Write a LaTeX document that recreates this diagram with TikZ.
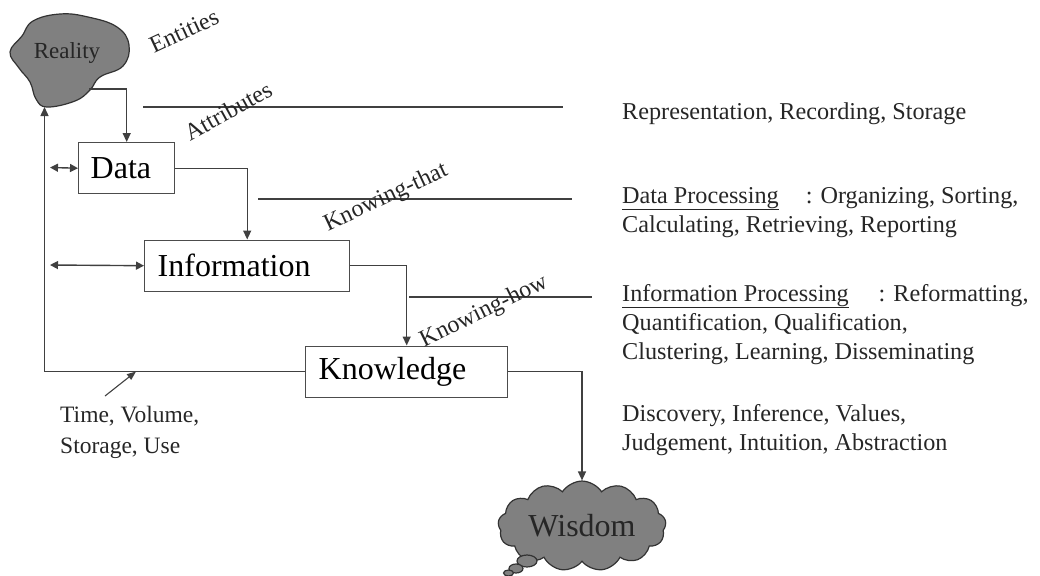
\documentclass[tikz,border=0pt]{standalone}
\usepackage{fontspec}
\setmainfont{Liberation Serif}
\usetikzlibrary{arrows.meta,shapes.symbols,shapes.geometric}
\begin{document}
\begin{tikzpicture}[x=1pt,y=-1pt,
  ln/.style={line width=1.4pt, draw=black!75},
  arr/.style={ln,-{Triangle[length=9pt,width=8pt]}},
  darr/.style={ln,{Triangle[length=8pt,width=8pt]}-{Triangle[length=8pt,width=8pt]}},
  stage/.style={draw=black!70, line width=1.4pt, minimum height=51pt, inner xsep=12pt, align=left, font=\fontsize{32}{36}\selectfont, anchor=north west},
  side/.style={anchor=base west, align=left, inner sep=0pt, font=\fontsize{24.2}{29}\selectfont, text=black!85},
  rot/.style={inner sep=0pt, font=\fontsize{24}{28}\selectfont, text=black!85},
  blob/.style={fill=black!50, draw=black!80, line width=1.2pt}
]
\useasboundingbox (0,0) rectangle (1040,575);

% Reality blob
\draw[blob] plot[smooth cycle, tension=0.7] coordinates {(10,52) (22,36) (33,21) (60,14) (88,17) (117,27) (129,45) (123,66) (100,77) (90,90) (75,101) (47,107) (36,99) (30,82) (19,68)};
\node[font=\fontsize{23}{26}\selectfont, text=black!85] (reality) at (67,53) {Reality};
\coordinate (realout) at (89,89);
\coordinate (realin) at (44.5,107);

% Wisdom cloud
\node[cloud, cloud puffs=13, cloud puff arc=115, aspect=2.1, minimum width=168pt, minimum height=80pt, fill=black!50, draw=black!80, line width=1.2pt, font=\fontsize{32}{36}\selectfont, text=black!85, inner sep=0pt] (wisdom) at (582,526) {Wisdom};
\draw[blob] (527,561) ellipse [x radius=10, y radius=6];
\draw[blob] (516,568.5) ellipse [x radius=7, y radius=4.5];
\draw[blob] (508.5,573) ellipse [x radius=5, y radius=3];

% Stage boxes
\node[stage, minimum width=96pt, text width=72pt] (data) at (78,142) {Data};
\node[stage, minimum width=205pt, inner xsep=13pt, text width=179pt] (info) at (144,239.5) {Information};
\node[stage, minimum width=202pt, inner xsep=13pt, text width=176pt] (know) at (305,345.5) {Knowledge};

% Main flow
\draw[arr] (realout) -| (data.north);
\draw[arr] (data.east) -| (info.north);
\draw[arr] (info.east) -| (know.north);
\draw[arr] (know.east) -| (wisdom.north);
\draw[arr] (know.west) -| (realin);

% Double arrows
\coordinate (dl) at (50,167.5);
\coordinate (il) at (50,265);
\draw[darr] (dl) -- (data.west);
\draw[darr] (il) -- (info.west);

% Time/volume pointer
\coordinate (tvsfrom) at (105,396);
\coordinate (tvsto) at (136,371.5);
\draw[ln, line width=1.1pt, -{Triangle[length=9pt,width=7pt]}] (tvsfrom) -- (tvsto);
\node[side, font=\fontsize{23.5}{31}\selectfont] (tvs) at (60,453) {Time, Volume,\\Storage, Use};

% Separator lines
\coordinate (l1a) at (143,107); \coordinate (l1b) at (563,107);
\coordinate (l2a) at (258,199); \coordinate (l2b) at (572,199);
\coordinate (l3a) at (409,297); \coordinate (l3b) at (592,297);
\draw[ln, line width=1.2pt] (l1a) -- (l1b);
\draw[ln, line width=1.2pt] (l2a) -- (l2b);
\draw[ln, line width=1.2pt] (l3a) -- (l3b);

% Rotated labels
\node[rot, rotate=25] (entities) at (184,31) {Entities};
\node[rot, rotate=29] (attributes) at (228,111) {Attributes};
\node[rot, rotate=25] (kthat) at (386,198) {Knowing-that};
\node[rot, rotate=26] (khow) at (484,312) {Knowing-how};

% Right-hand descriptions (base = baseline of last line)
\node[side] (rep) at (622,120) {Representation, Recording, Storage};
\node[side] (dp) at (622,232) {\underline{Data Processing}\hspace{27pt}: Organizing, Sorting,\\Calculating, Retrieving, Reporting};
\node[side] (ip) at (622,359) {\underline{Information Processing}\hspace{30pt}: Reformatting,\\Quantification, Qualification,\\Clustering, Learning, Disseminating};
\node[side] (disc) at (622,450) {Discovery, Inference, Values,\\Judgement, Intuition, Abstraction};
\end{tikzpicture}
\end{document}
